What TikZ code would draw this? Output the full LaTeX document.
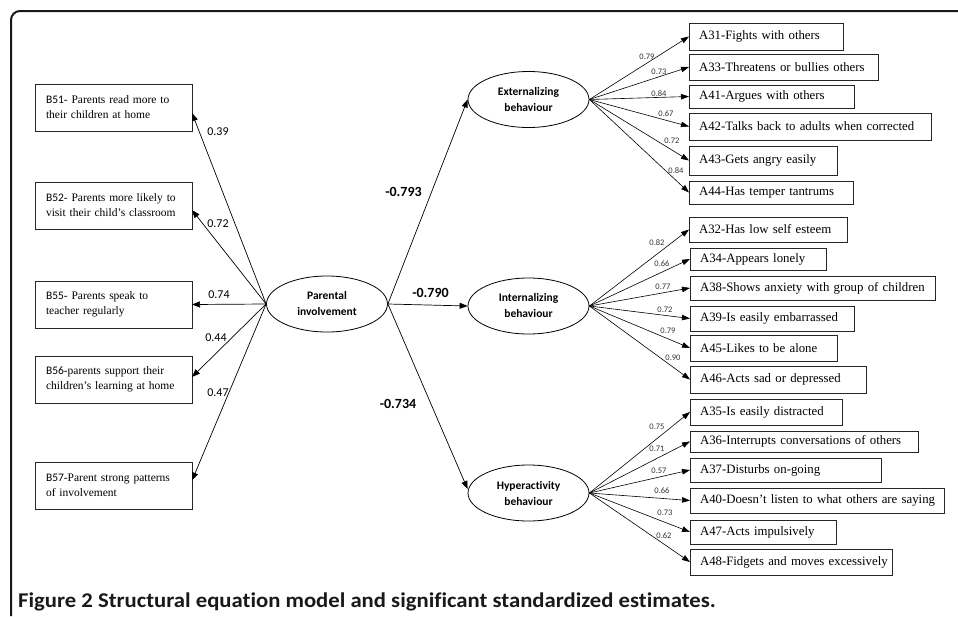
\documentclass[tikz,border=0pt]{standalone}
\usepackage{fontspec}
\setmainfont{Liberation Serif}
\newfontfamily\calfont[Ligatures=NoCommon]{Carlito}
\usetikzlibrary{arrows.meta,shapes.geometric}
\newcommand\rtxt[1]{\mbox{#1}}
\begin{document}
\begin{tikzpicture}[x=1pt,y=-1pt,
  lbox/.style={draw=black!85, line width=0.8pt, anchor=north west,
    minimum width=157pt, minimum height=47pt, text width=135pt, align=left,
    inner xsep=11pt, inner ysep=0pt, outer sep=0pt,
    font=\fontsize{11.5}{15}\selectfont},
  rbox/.code 2 args={\pgfmathsetlengthmacro\rboxtw{#1pt-20pt}%
    \tikzset{draw=black!85, line width=0.8pt, anchor=west,
      minimum width=#1pt, minimum height=#2pt, text width=\rboxtw, align=left,
      inner xsep=10pt, inner ysep=0pt, outer sep=0pt,
      font=\fontsize{12.8}{15}\selectfont}},
  latent/.style={ellipse, draw, line width=0.8pt, minimum width=121pt,
    minimum height=56pt, inner sep=0pt, align=center,
    font=\calfont\bfseries\fontsize{11.5}{16}\selectfont},
  arr/.style={line width=0.7pt, -{Triangle[length=8pt,width=6pt]}},
  sarr/.style={line width=0.6pt, -{Triangle[length=8pt,width=5.5pt]}},
  bigw/.style={font=\calfont\bfseries\fontsize{14}{16}\selectfont, inner sep=0pt},
  midw/.style={font=\calfont\fontsize{12}{14}\selectfont, inner sep=0pt},
  smallw/.style={font=\calfont\fontsize{8.5}{10}\selectfont, inner sep=0pt, text=black!80},
]
\useasboundingbox (0,0) rectangle (958,616);
% frame
\draw[line width=2pt, black!90, rounded corners=9pt] (11,616) |- (958,11);

% latent variables
\node[latent] (pi)  at (327,304)   {Parental\\involvement};
\node[latent] (ext) at (528.5,99.5) {Externalizing\\behaviour};
\node[latent] (int) at (528.5,306) {Internalizing\\behaviour};
\node[latent] (hyp) at (528.5,493) {Hyperactivity\\behaviour};

% left indicators
\node[lbox] (b51) at (35,84)  {{\calfont B51}- Parents read more to\\their children at home};
\node[lbox] (b52) at (35,182) {{\calfont B52}- Parents more likely to\\visit their child’s classroom};
\node[lbox] (b55) at (35,281) {{\calfont B55}- Parents speak to\\teacher regularly};
\node[lbox] (b56) at (35,356) {{\calfont B56}-parents support their\\children’s learning at home};
\node[lbox] (b57) at (35,462) {{\calfont B57}-Parent strong patterns\\of involvement};

\draw[arr] (pi.west) -- ([yshift=-5.5pt]b51.east);
\draw[arr] (pi.west) -- ([yshift=-4.5pt]b52.east);
\draw[arr] (pi.west) -- (b55.east);
\draw[arr] (pi.west) -- ([yshift=2.5pt]b56.east);
\draw[arr] (pi.west) -- ([yshift=5pt]b57.east);

\node[midw] (l51) at (218,132) {0.39};
\node[midw] (l52) at (218,224) {0.72};
\node[midw] (l55) at (219,295) {0.74};
\node[midw] (l56) at (216,338) {0.44};
\node[midw] (l57) at (218,393) {0.47};

% structural paths
\draw[arr] (pi.east) -- (ext.west);
\draw[arr] (pi.east) -- (int.west);
\draw[arr] (pi.east) -- ([yshift=4pt]hyp.west);
\node[bigw] (s1) at (403.5,192) {-0.793};
\node[bigw] (s2) at (430.5,293) {-0.790};
\node[bigw] (s3) at (398,404) {-0.734};

% externalizing indicators
\node[rbox={154}{27}] (a31) at (689,36.5)  {\rtxt{A31-Fights with others}};
\node[rbox={189}{26}] (a33) at (689,67)    {\rtxt{A33-Threatens or bullies others}};
\node[rbox={165}{23}] (a41) at (689,96.5)  {\rtxt{A41-Argues with others}};
\node[rbox={242}{27}] (a42) at (689,126.5) {\rtxt{A42-Talks back to adults when corrected}};
\node[rbox={148}{29}] (a43) at (689,160.5) {\rtxt{A43-Gets angry easily}};
\node[rbox={164}{23}] (a44) at (689,192.5) {\rtxt{A44-Has temper tantrums}};
\foreach \t in {a31,a33,a41,a42,a43,a44} \draw[sarr] (ext.east) -- (\t.west);
\node[smallw] (e1) at (647,57)  {0.79};
\node[smallw] (e2) at (659,72)  {0.73};
\node[smallw] (e3) at (659,94)  {0.84};
\node[smallw] (e4) at (666,114) {0.67};
\node[smallw] (e5) at (672,141) {0.72};
\node[smallw] (e6) at (676,171) {0.84};

% internalizing indicators
\node[rbox={158}{25}] (a32) at (689,229.5) {\rtxt{A32-Has low self esteem}};
\node[rbox={136}{22}] (a34) at (690,259)   {\rtxt{A34-Appears lonely}};
\node[rbox={245}{24}] (a38) at (690,288)   {\rtxt{A38-Shows anxiety with group of children}};
\node[rbox={164}{25}] (a39) at (690,318.5) {\rtxt{A39-Is easily embarrassed}};
\node[rbox={147}{26}] (a45) at (690,348)   {\rtxt{A45-Likes to be alone}};
\node[rbox={176}{27}] (a46) at (690,379.5) {\rtxt{A46-Acts sad or depressed}};
\foreach \t in {a32,a34,a38,a39,a45,a46} \draw[sarr] (int.east) -- (\t.west);
\node[smallw] (i1) at (657,243) {0.82};
\node[smallw] (i2) at (662,264) {0.66};
\node[smallw] (i3) at (663,287) {0.77};
\node[smallw] (i4) at (665,310) {0.72};
\node[smallw] (i5) at (668,331) {0.79};
\node[smallw] (i6) at (673,358) {0.90};

% hyperactivity indicators
\node[rbox={152}{26}] (a35) at (690,412)   {\rtxt{A35-Is easily distracted}};
\node[rbox={228}{21}] (a36) at (690,441.5) {\rtxt{A36-Interrupts conversations of others}};
\node[rbox={191}{24}] (a37) at (690,470)   {\rtxt{A37-Disturbs on-going}};
\node[rbox={254}{25}] (a40) at (690,500.5) {\rtxt{A40-Doesn’t listen to what others are saying}};
\node[rbox={146}{24}] (a47) at (690,532)   {\rtxt{A47-Acts impulsively}};
\node[rbox={202}{26}] (a48) at (690,562)   {\rtxt{A48-Fidgets and moves excessively}};
\foreach \t in {a35,a36,a37,a40,a47,a48} \draw[sarr] (hyp.east) -- (\t.west);
\node[smallw] (h1) at (657,427) {0.75};
\node[smallw] (h2) at (657,449) {0.71};
\node[smallw] (h3) at (659,471) {0.57};
\node[smallw] (h4) at (662,491) {0.66};
\node[smallw] (h5) at (665,513) {0.73};
\node[smallw] (h6) at (664,536) {0.62};

% caption
\node[anchor=base west, inner sep=0pt, text=black!90,
  font=\calfont\bfseries\fontsize{21}{23}\selectfont] (cap) at (18,607)
  {\scalebox{1.08}[1]{Figure 2 Structural equation model and significant standardized estimates.}};
\end{tikzpicture}
\end{document}
